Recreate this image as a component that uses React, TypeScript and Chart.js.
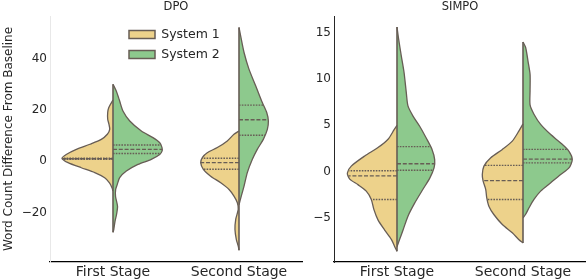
import React, { useEffect, useRef } from "react";
import { Chart, registerables } from "chart.js";

Chart.register(...registerables);

const FONT = "'DejaVu Sans', sans-serif";
const TEXT = "#262626";
const EDGE = "#675d55";

const categories = ["First Stage", "Second Stage"];
const seriesNames = ["System 1", "System 2"];
const seriesColors = ["#EDD28B", "#8DC98D"];
const panelTitles = ["DPO", "SIMPO"];
const yAxisTitle = "Word Count Difference From Baseline";

const dpoYTicks = [-20, 0, 20, 40];
const dpoYRange = [-39.4, 56.9];
const simpoYTicks = [-5, 0, 5, 10, 15];
const simpoYRange = [-9.75, 16.8];
const xRange = [-0.5, 1.5];

// ---- DPO ----
// First Stage, System 1 (values, half-widths in category units, quartiles Q1/median/Q3)
const dpoFirstS1Val = [24.0, 21.0, 19.1, 16.5, 14.5, 12.5, 10.6, 8.6, 6.7, 4.7, 2.7, 1.2, -0.5, -2.5, -4.4, -6.4, -8.4, -10.3, -11.6];
const dpoFirstS1Wid = [0, 0.034, 0.042, 0.042, 0.032, 0.026, 0.045, 0.093, 0.183, 0.291, 0.371, 0.405, 0.357, 0.252, 0.145, 0.066, 0.028, 0.008, 0];
const dpoFirstS1Quart = [0.8, 1.0, 1.2];
// First Stage, System 2
const dpoFirstS2Val = [30.2, 27.5, 23.6, 19.7, 15.8, 11.9, 9.3, 7.3, 5.4, 4.0, 2.7, 0.8, -1.2, -3.8, -6.4, -9.0, -11.0, -13.7, -17.6, -20.8, -23.5, -26.7, -27.8];
const dpoFirstS2Wid = [0, 0.026, 0.053, 0.079, 0.133, 0.225, 0.317, 0.371, 0.389, 0.389, 0.371, 0.304, 0.198, 0.106, 0.053, 0.034, 0.021, 0.02, 0.036, 0.028, 0.016, 0.006, 0];
const dpoFirstS2Quart = [3.1, 4.7, 6.4];
// Second Stage, System 1
const dpoSecondS1Val = [11.9, 10.6, 8.0, 5.4, 3.4, 1.5, -0.5, -3.1, -5.8, -8.4, -11.0, -13.6, -16.2, -18.8, -22.7, -26.7, -30.6, -33.2, -34.8];
const dpoSecondS1Wid = [0, 0.04, 0.093, 0.172, 0.252, 0.291, 0.304, 0.283, 0.225, 0.145, 0.079, 0.04, 0.013, 0.006, 0.026, 0.032, 0.021, 0.006, 0];
const dpoSecondS1Quart = [-3.1, -0.5, 1.2];
// Second Stage, System 2
const dpoSecondS2Val = [52.4, 49.1, 42.6, 36.1, 29.5, 23.0, 19.1, 15.8, 12.5, 8.6, 4.7, 0.8, -4.4, -9.7, -13.6, -17.0];
const dpoSecondS2Wid = [0, 0.013, 0.04, 0.079, 0.133, 0.185, 0.22, 0.233, 0.225, 0.193, 0.145, 0.106, 0.066, 0.04, 0.018, 0];
const dpoSecondS2Quart = [10.2, 16.3, 22.0];

// ---- SIMPO ----
const simpoFirstS1Val = [5.0, 4.5, 3.5, 2.6, 1.7, 0.6, -0.15, -0.8, -1.4, -2.1, -3.0, -4.1, -5.2, -6.3, -7.3, -8.1, -8.6];
const simpoFirstS1Wid = [0, 0.024, 0.071, 0.151, 0.256, 0.363, 0.394, 0.375, 0.31, 0.244, 0.204, 0.183, 0.151, 0.098, 0.045, 0.018, 0];
const simpoFirstS1Quart = [-3.0, -0.45, 0.1];
const simpoFirstS2Val = [15.6, 14.3, 12.5, 10.7, 8.5, 7.1, 6.0, 4.9, 3.6, 2.4, 1.3, 0.4, -0.7, -1.9, -3.4, -4.8, -6.3, -7.3, -8.1];
const simpoFirstS2Wid = [0, 0.013, 0.034, 0.056, 0.074, 0.087, 0.127, 0.18, 0.233, 0.278, 0.299, 0.294, 0.26, 0.206, 0.14, 0.087, 0.048, 0.021, 0];
const simpoFirstS2Quart = [0.15, 0.85, 2.7];
const simpoSecondS1Val = [5.15, 4.4, 3.3, 2.4, 1.5, 0.6, -0.3, -1.0, -1.9, -2.8, -3.75, -4.65, -5.7, -6.6, -7.35, -7.7];
const simpoSecondS1Wid = [0, 0.032, 0.085, 0.164, 0.256, 0.31, 0.323, 0.317, 0.296, 0.288, 0.27, 0.23, 0.164, 0.085, 0.032, 0];
const simpoSecondS1Quart = [-3.0, -0.97, 0.68];
const simpoSecondS2Val = [14.0, 13.4, 11.9, 10.5, 8.7, 7.2, 6.2, 5.1, 4.0, 3.1, 2.2, 1.3, 0.4, -0.3, -1.2, -2.1, -3.0, -3.9, -4.6, -5.0];
const simpoSecondS2Wid = [0, 0.021, 0.04, 0.056, 0.056, 0.056, 0.087, 0.14, 0.22, 0.299, 0.365, 0.391, 0.365, 0.299, 0.22, 0.14, 0.087, 0.048, 0.021, 0];
const simpoSecondS2Quart = [0.95, 1.35, 2.4];

type Half = { cat: number; series: number; vals: number[]; wids: number[]; quarts: number[] };

const dpoHalves: Half[] = [
  { cat: 0, series: 0, vals: dpoFirstS1Val, wids: dpoFirstS1Wid, quarts: dpoFirstS1Quart },
  { cat: 0, series: 1, vals: dpoFirstS2Val, wids: dpoFirstS2Wid, quarts: dpoFirstS2Quart },
  { cat: 1, series: 0, vals: dpoSecondS1Val, wids: dpoSecondS1Wid, quarts: dpoSecondS1Quart },
  { cat: 1, series: 1, vals: dpoSecondS2Val, wids: dpoSecondS2Wid, quarts: dpoSecondS2Quart },
];
const simpoHalves: Half[] = [
  { cat: 0, series: 0, vals: simpoFirstS1Val, wids: simpoFirstS1Wid, quarts: simpoFirstS1Quart },
  { cat: 0, series: 1, vals: simpoFirstS2Val, wids: simpoFirstS2Wid, quarts: simpoFirstS2Quart },
  { cat: 1, series: 0, vals: simpoSecondS1Val, wids: simpoSecondS1Wid, quarts: simpoSecondS1Quart },
  { cat: 1, series: 1, vals: simpoSecondS2Val, wids: simpoSecondS2Wid, quarts: simpoSecondS2Quart },
];

function widthAt(vals: number[], wids: number[], q: number) {
  for (let i = 0; i < vals.length - 1; i++) {
    const a = vals[i];
    const b = vals[i + 1];
    if (q <= a && q >= b) {
      const t = a === b ? 0 : (a - q) / (a - b);
      return wids[i] + t * (wids[i + 1] - wids[i]);
    }
  }
  return 0;
}

function buildDatasets(halves: Half[]) {
  const ds: any[] = [];
  halves.forEach((h) => {
    const sign = h.series === 0 ? -1 : 1;
    ds.push({
      data: h.vals.map((v, i) => ({ x: h.cat + sign * h.wids[i], y: v })),
      showLine: true,
      fill: "shape",
      backgroundColor: seriesColors[h.series],
      borderColor: EDGE,
      borderWidth: 1.3,
      pointRadius: 0,
      tension: 0.25,
      order: 2,
    });
    h.quarts.forEach((q, k) => {
      const w = widthAt(h.vals, h.wids, q);
      ds.push({
        data: [
          { x: h.cat, y: q },
          { x: h.cat + sign * w, y: q },
        ],
        showLine: true,
        fill: false,
        borderColor: EDGE,
        borderWidth: 1.4,
        borderDash: k === 1 ? [4, 1.8] : [1.6, 1.2],
        pointRadius: 0,
        order: 1,
      });
    });
  });
  categories.forEach((_, c) => {
    const hs = halves.filter((h) => h.cat === c);
    const top = Math.max(...hs.map((h) => h.vals[0]));
    const bot = Math.min(...hs.map((h) => h.vals[h.vals.length - 1]));
    ds.push({
      data: [
        { x: c, y: top },
        { x: c, y: bot },
      ],
      showLine: true,
      fill: false,
      borderColor: EDGE,
      borderWidth: 1.6,
      pointRadius: 0,
      order: 0,
    });
  });
  return ds;
}

const fmt = (v: any) => {
  const n = Number(v);
  return n < 0 ? "\u2212" + Math.abs(n) : String(n);
};

const legendPlacer = {
  id: "legendPlacer",
  afterLayout(chart: any) {
    const lg = chart.legend;
    if (!lg || !chart.options.plugins.legend.display) return;
    const a = chart.chartArea;
    const w = lg.width + 20;
    lg.left = a.left + 71.5;
    lg.top = a.top + 4.75;
    lg.right = lg.left + w;
    lg.bottom = a.bottom;
  },
};

type PanelProps = {
  idx: number;
  halves: Half[];
  yTicks: number[];
  yRange: number[];
  yAxisWidth: number;
  rightPad: number;
  width: number;
  showYTitle: boolean;
  showLegend: boolean;
  yBorderColor: string;
};

function Panel(p: PanelProps) {
  const ref = useRef<HTMLCanvasElement>(null);
  useEffect(() => {
    if (!ref.current) return;
    const chart = new Chart(ref.current, {
      type: "scatter",
      data: { datasets: buildDatasets(p.halves) },
      options: {
        animation: false,
        responsive: true,
        maintainAspectRatio: false,
        events: [],
        layout: { padding: { left: 0, right: p.rightPad, top: 0, bottom: 0 } },
        plugins: {
          title: {
            display: true,
            text: panelTitles[p.idx],
            fullSize: false,
            font: { family: FONT, size: 11.5, weight: "normal" },
            color: TEXT,
            padding: { top: 0, bottom: 2.2 },
          },
          legend: p.showLegend
            ? {
                display: true,
                position: "chartArea",
                align: "start",
                onClick: () => {},
                labels: {
                  boxWidth: 26,
                  boxHeight: 8,
                  padding: 7.5,
                  font: { family: FONT, size: 12.5 },
                  color: TEXT,
                  generateLabels: () =>
                    seriesNames.map((n, i) => ({
                      text: n,
                      fillStyle: seriesColors[i],
                      strokeStyle: EDGE,
                      lineWidth: 1.5,
                      hidden: false,
                      fontColor: TEXT,
                      datasetIndex: i,
                    })),
                },
              }
            : { display: false },
          tooltip: { enabled: false },
        },
        scales: {
          x: {
            type: "linear",
            min: xRange[0],
            max: xRange[1],
            grid: { display: false, drawTicks: false },
            border: { display: true, color: "#000000", width: 1.2 },
            ticks: {
              padding: 2,
              font: { family: FONT, size: 14 },
              color: TEXT,
              maxRotation: 0,
              callback: (v: any) => categories[Number(v)] ?? "",
            },
            afterBuildTicks: (s: any) => {
              s.ticks = categories.map((_, i) => ({ value: i }));
            },
            afterFit: (s: any) => {
              s.height = 18;
            },
          },
          y: {
            type: "linear",
            min: p.yRange[0],
            max: p.yRange[1],
            grid: { display: false, drawTicks: false },
            border: { display: true, color: p.yBorderColor, width: 1 },
            ticks: {
              padding: 3,
              font: { family: FONT, size: 12 },
              color: TEXT,
              callback: fmt,
            },
            afterBuildTicks: (s: any) => {
              s.ticks = p.yTicks.map((v) => ({ value: v }));
            },
            afterFit: (s: any) => {
              s.width = p.yAxisWidth;
            },
            title: p.showYTitle
              ? {
                  display: true,
                  text: yAxisTitle,
                  font: { family: FONT, size: 12 },
                  color: TEXT,
                  padding: { top: 2, bottom: 0 },
                }
              : { display: false },
          },
        },
      } as any,
      plugins: [legendPlacer],
    });
    return () => chart.destroy();
  }, []);
  return (
    <div style={{ position: "relative", width: p.width, height: 280 }}>
      <canvas ref={ref} />
    </div>
  );
}

export default function App() {
  return (
    <div
      style={{
        position: "absolute",
        left: 0,
        top: 0,
        width: 586,
        height: 280,
        display: "flex",
        background: "#ffffff",
      }}
    >
      <Panel
        idx={0}
        halves={dpoHalves}
        yTicks={dpoYTicks}
        yRange={dpoYRange}
        yAxisWidth={50}
        rightPad={8}
        width={310}
        showYTitle={true}
        showLegend={true}
        yBorderColor="#e8e8e8"
      />
      <Panel
        idx={1}
        halves={simpoHalves}
        yTicks={simpoYTicks}
        yRange={simpoYRange}
        yAxisWidth={24}
        rightPad={0}
        width={276}
        showYTitle={false}
        showLegend={false}
        yBorderColor="#262626"
      />
    </div>
  );
}
